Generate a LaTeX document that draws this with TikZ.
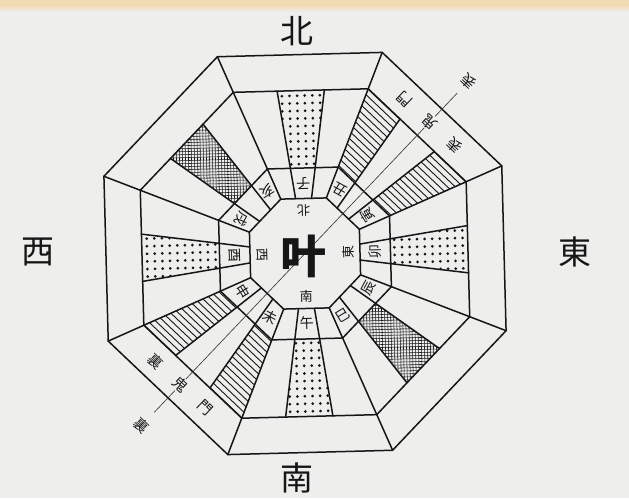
\documentclass[tikz,border=0pt]{standalone}
\usepackage{fontspec}
\newfontfamily\cjk{Noto Sans CJK JP}
\usetikzlibrary{calc}
\definecolor{bg}{RGB}{238,238,237}
\definecolor{topband}{RGB}{241,219,181}
\definecolor{ink}{RGB}{22,22,22}
\tikzset{
  edge/.style={draw=ink, line width=1.5pt, line cap=round},
  axisline/.style={draw=ink!85, line width=0.65pt},
  bigdir/.style={font=\cjk\fontsize{33}{33}\selectfont, text=ink, inner sep=0pt},
  branch/.style={font=\cjk\fontsize{14}{14}\selectfont, text=ink, inner sep=0.5pt},
  innerdir/.style={font=\cjk\fontsize{13}{13}\selectfont, text=ink, inner sep=0.5pt},
  kimon/.style={font=\cjk\fontsize{14.5}{14.5}\selectfont, text=ink, inner sep=1pt},
  hatchline/.style={draw=ink, line width=0.9pt},
  crossline/.style={draw=ink, line width=0.55pt},
}
% middle sub-sector dots
\newcommand\mydots{%
  \begin{scope}
    \clip (-12.40,85.5) -- (12.40,85.5) -- (23.64,163) -- (-23.64,163) -- cycle;
    \foreach \j in {0,...,10}{
      \foreach \i in {-3,...,2}{
        \fill[ink] ({(\i+0.5)*7.6},{89.5+\j*7.6}) circle (1.5);
      }
    }
  \end{scope}}
% side sub-sectors hatched
\newcommand\myhatch{%
  \begin{scope}
    \clip (-35.42,85.5) -- (-12.40,85.5) -- (-23.64,163) -- (-67.52,163) -- cycle
          (35.42,85.5) -- (12.40,85.5) -- (23.64,163) -- (67.52,163) -- cycle;
    \foreach \j in {0,...,15}{
      \draw[hatchline] (-70,{87+\j*5.4}) -- (70,{87+\j*5.4});
    }
  \end{scope}}
% middle sub-sector cross-hatched
\newcommand\mycross{%
  \begin{scope}
    \clip (-12.40,85.5) -- (12.40,85.5) -- (23.64,163) -- (-23.64,163) -- cycle;
    \foreach \j in {-16,...,22}{
      \draw[crossline] ({\j*4.2426-60},80) -- ++(90,90);
      \draw[crossline] ({-\j*4.2426+60},80) -- ++(-90,90);
    }
  \end{scope}}
\begin{document}
\begin{tikzpicture}[x=1pt,y=1pt]
\useasboundingbox (0,0) rectangle (629,498);
\fill[bg] (0,0) rectangle (629,498);
\shade[top color=topband, bottom color=bg] (0,486) rectangle (629,492.5);
\fill[topband] (0,492.5) rectangle (629,498);

% fills
\foreach \k in {0,...,7}{
  \begin{scope}[shift={(305,244.5)}, rotate={1.5-45*\k}]
    \ifcase\k \mydots \or \myhatch \or \mydots \or \mycross \or \mydots \or \myhatch \or \mydots \or \mycross \fi
  \end{scope}
}
% lines
\foreach \k in {0,...,7}{
  \begin{scope}[shift={(305,244.5)}, rotate={1.5-45*\k}]
    \draw[edge] (-82.43,199) -- (82.43,199);
    \draw[edge] (82.43,199) -- (22.78,55);
    \draw[edge] (-67.52,163) -- (67.52,163);
    \draw[edge] (-35.42,85.5) -- (35.42,85.5);
    \draw[edge] (-22.78,55) -- (22.78,55);
    \draw[edge] (-23.64,163) -- (-7.98,55);
    \draw[edge] (23.64,163) -- (7.98,55);
  \end{scope}
}

\begin{scope}[shift={(305,244.5)}, rotate=1.5]
  % kimon axis
  \coordinate (axSW) at (225:219);
  \coordinate (axNE) at (45:221);
  \draw[axisline] (axSW) -- (axNE);
  % twelve branches
  \foreach \ch/\ang/\dd [count=\n] in {子/90/70, 丑/60/72.5, 寅/30/72.5, 卯/0/70, 辰/-30/72.5, 巳/-60/72.5, 午/-90/70, 未/-120/72.5, 申/-150/72.5, 酉/180/70, 戌/150/72.5, 亥/120/72.5}{
    \node[branch, rotate={\ang+91.5}] (br\n) at (\ang:\dd) {\ch};
  }
  % inner direction labels
  \foreach \ch/\ang [count=\n] in {北/90, 東/0, 南/-90, 西/180}{
    \node[innerdir, rotate={\ang+91.5}] (in\n) at (\ang:43) {\ch};
  }
  % NE omote-kimon
  \node[kimon, fill=bg, rotate=136.5] (kiNE) at (45:181) {鬼};
  \node[kimon, rotate=136.5] (moNE) at ($(45:181)+(135:34)$) {門};
  \node[kimon, rotate=136.5] (hyNE) at ($(45:181)+(-45:34)$) {表};
  \node[kimon, fill=bg, rotate=136.5] (enNE) at (45:237) {表};
  % SW ura-kimon
  \node[kimon, fill=bg, rotate=316.5] (kiSW) at (225:181) {鬼};
  \node[kimon, rotate=316.5] (urSW) at ($(225:181)+(135:34)$) {裏};
  \node[kimon, rotate=316.5] (moSW) at ($(225:181)+(-45:34)$) {門};
  \node[kimon, fill=bg, rotate=316.5] (enSW) at (225:237) {裏};
\end{scope}

% centre
\node[font=\cjk\bfseries\fontsize{46}{46}\selectfont, text=ink, inner sep=0pt] (ye) at (303,242) {叶};

% outer compass labels
\node[bigdir] (north) at (297,467) {北};
\node[bigdir] (east) at (575,246) {東};
\node[bigdir] (south) at (297,20) {南};
\node[bigdir] (west) at (38,246) {西};
\end{tikzpicture}
\end{document}
